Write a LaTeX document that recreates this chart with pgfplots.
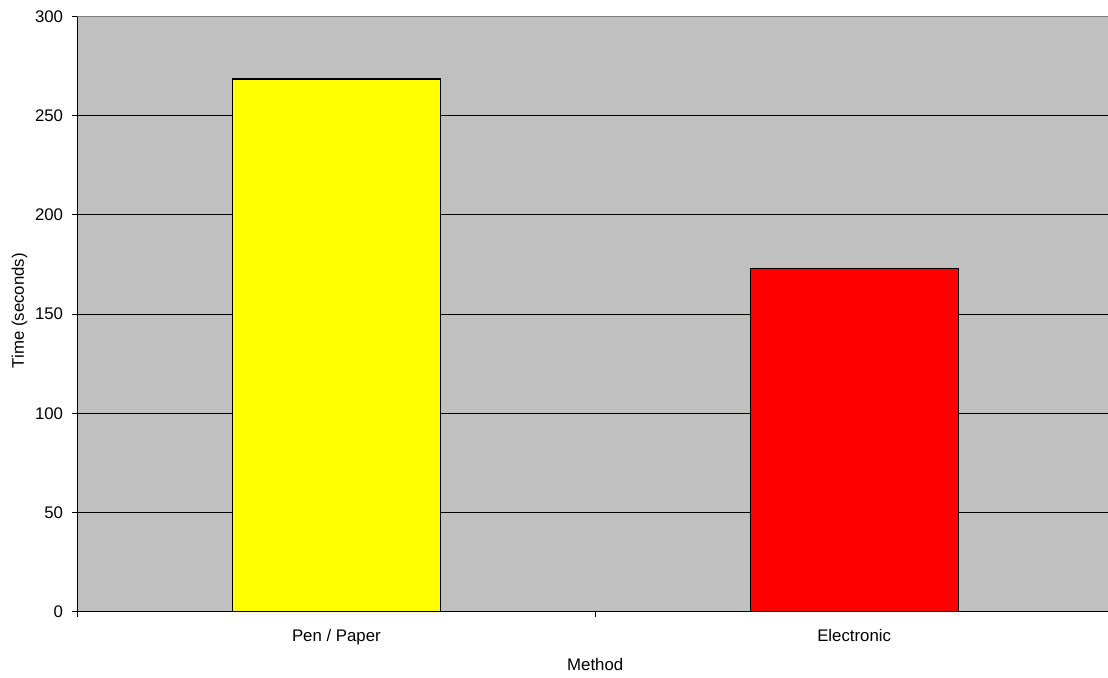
\documentclass[border=0pt]{standalone}
\usepackage{pgfplots}
\pgfplotsset{compat=1.18}
\usepackage{fontspec}
\setmainfont{Liberation Sans}

\definecolor{plotbg}{HTML}{C0C0C0}
\definecolor{barone}{HTML}{FFFF00}
\definecolor{bartwo}{HTML}{FF0000}
\definecolor{topline}{HTML}{808080}

\begin{document}
\begin{tikzpicture}
% page = 1108 x 678 px, 1px = 0.5pt
\path[use as bounding box] (0pt,0pt) rectangle (554pt,339pt);
\clip (0pt,0pt) rectangle (554pt,339pt);
\begin{axis}[
    at={(38.75pt,33.15pt)}, anchor=south west,
    scale only axis,
    width=517.75pt, height=297.6pt,
    xmin=0, xmax=2, ymin=0, ymax=300,
    axis x line*=bottom, axis y line*=left,
    axis line style={black, line width=0.5pt},
    axis background/.style={fill=plotbg},
    font=\fontsize{8.4}{10}\selectfont,
    /pgf/number format/assume math mode=true,
    ytick={0,50,...,300},
    ymajorgrids=true,
    grid style={black, line width=0.5pt},
    tick align=outside,
    tick style={black, line width=0.5pt},
    y tick label style={anchor=east, xshift=-1.2pt},
    major tick length=2.5pt,
    xtick={0,1,2},
    xticklabels={},
    extra x ticks={0.5,1.5},
    extra x tick labels={Pen / Paper, Electronic},
    extra x tick style={major tick length=0pt, grid=none},
    x tick label style={anchor=base, yshift=-15pt},
    xlabel={Method},
    ylabel={Time (seconds)},
    every axis x label/.style={at={(axis description cs:0.5,0)}, anchor=base, yshift=-29.5pt},
    every axis y label/.style={at={(axis description cs:0,0.5)}, rotate=90, anchor=center, yshift=29pt, xshift=1.7pt},
    ybar, bar width=104pt,
]
\addplot[ybar, bar shift=0pt, fill=barone, draw=black, line width=0.6pt] coordinates {(0.5,268.5)};
\addplot[ybar, bar shift=0pt, fill=bartwo, draw=black, line width=0.6pt] coordinates {(1.5,172.8)};
\draw[topline, line width=0.7pt] (rel axis cs:0,1) -- (rel axis cs:1,1);
\end{axis}
\end{tikzpicture}
\end{document}
